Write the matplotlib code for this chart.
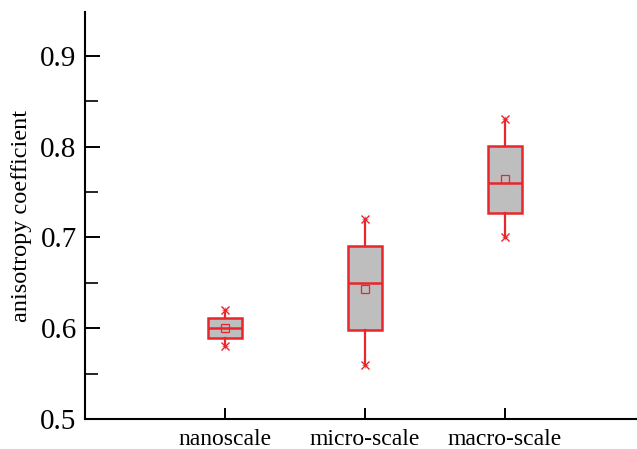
import numpy as np
import matplotlib.pyplot as plt
from matplotlib.ticker import MultipleLocator

plt.rcParams['font.family'] = ['Liberation Serif', 'DejaVu Serif']

scales = ['nanoscale', 'micro-scale', 'macro-scale']
whis_lo = [0.58, 0.56, 0.70]
q1 = [0.589, 0.598, 0.727]
med = [0.600, 0.650, 0.760]
q3 = [0.611, 0.690, 0.801]
whis_hi = [0.62, 0.72, 0.83]
means = [0.600, 0.643, 0.764]

red = '#e8262b'

stats = []
for i in range(len(scales)):
    stats.append(dict(label=scales[i], whislo=whis_lo[i], q1=q1[i], med=med[i],
                      q3=q3[i], whishi=whis_hi[i], mean=means[i],
                      fliers=[whis_lo[i], whis_hi[i]]))

fig = plt.figure(figsize=(6.37, 4.49), dpi=100)
ax = fig.add_axes([0.1334, 0.0668, 0.8666, 0.906])

pos = np.arange(1, len(scales) + 1)
ax.bxp(stats, positions=pos, widths=0.24, patch_artist=True,
       showmeans=True, showcaps=False,
       boxprops=dict(facecolor='#bebebe', edgecolor=red, linewidth=1.8),
       medianprops=dict(color=red, linewidth=1.8),
       whiskerprops=dict(color=red, linewidth=1.6),
       meanprops=dict(marker='s', markerfacecolor='none', markeredgecolor=red,
                      markersize=5.5, markeredgewidth=0.9),
       flierprops=dict(marker='x', markeredgecolor=red, markersize=6,
                       markeredgewidth=1.0))
# star-like ends: overlay a plus on each whisker end
for i in range(len(scales)):
    ax.plot([pos[i], pos[i]], [whis_lo[i], whis_hi[i]], ls='none', marker='+',
            color=red, ms=5, mew=0.8, alpha=0.6)

ax.set_xlim(0, 552 / 140)
ax.set_ylim(0.5, 0.948)
ax.set_xticks(pos)
ax.set_xticklabels(scales, fontsize=17)
ax.yaxis.set_major_locator(MultipleLocator(0.1))
ax.yaxis.set_minor_locator(MultipleLocator(0.05))
ax.tick_params(axis='y', which='major', direction='in', length=11, width=1.4,
               labelsize=21, pad=6)
ax.tick_params(axis='y', which='minor', direction='in', length=9, width=1.2)
ax.tick_params(axis='x', direction='in', length=8, width=1.4, pad=7)
ax.set_ylabel('anisotropy coefficient', fontsize=17.5, labelpad=6)

ax.spines['top'].set_visible(False)
ax.spines['right'].set_visible(False)
ax.spines['left'].set_linewidth(1.5)
ax.spines['bottom'].set_linewidth(1.5)

fig.savefig('out.png', dpi=100)
